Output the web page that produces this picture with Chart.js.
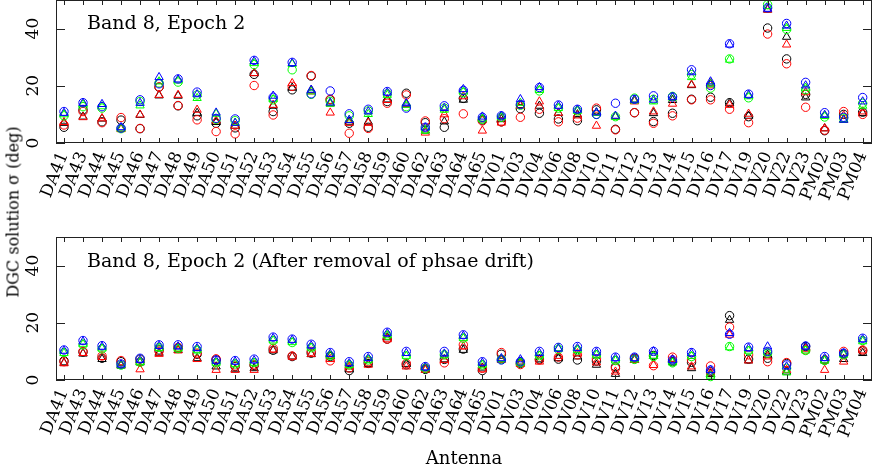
<!DOCTYPE html>
<html>
<head>
<meta charset="utf-8">
<script src="https://cdn.jsdelivr.net/npm/chart.js@4.4.1/dist/chart.umd.min.js"></script>
<style>
  html, body { margin: 0; padding: 0; background: #fff; overflow: hidden; }
  #wrap { position: relative; width: 872px; height: 466px; font-family: 'DejaVu Serif', serif; color: #000; }
  .panel { position: absolute; left: 0; width: 872px; }
  #top { top: 0; height: 222px; }
  #bot { top: 222px; height: 244px; }
  .title { position: absolute; left: 87px; font-size: 19px; line-height: 1; white-space: nowrap; }
  #ylab { position: absolute; left: 13px; top: 212px; transform: translate(-50%, -50%) rotate(-90deg); font-size: 16px; white-space: nowrap; }
</style>
</head>
<body>
<div id="wrap">
  <div class="panel" id="top"><canvas id="chartTop"></canvas></div>
  <div class="panel" id="bot"><canvas id="chartBot"></canvas></div>
  <div class="title" style="top:13px">Band 8, Epoch 2</div>
  <div class="title" style="top:251px">Band 8, Epoch 2 (After removal of phsae drift)</div>
  <div id="ylab">DGC solution σ (deg)</div>
</div>
<script>
const antennas = ['DA41','DA43','DA44','DA45','DA46','DA47','DA48','DA49','DA50','DA51','DA52','DA53','DA54',
  'DA55','DA56','DA57','DA58','DA59','DA60','DA62','DA63','DA64','DA65','DV01','DV03','DV04','DV06','DV08',
  'DV10','DV11','DV12','DV13','DV14','DV15','DV16','DV17','DV19','DV20','DV22','DV23','PM02','PM03','PM04'];
const yTicks = [0, 20, 40];

// panneau du haut : Band 8, Epoch 2
const topBlackCirc = [5.5,11.6,7.4,8.0,5.0,19.5,13.0,9.5,6.9,5.3,24.0,11.0,18.6,23.4,15.1,6.9,5.5,14.5,17.4,7.1,5.5,15.6,8.0,7.4,12.0,10.4,8.4,7.8,11.6,4.8,10.6,7.5,10.4,15.3,16.0,14.1,9.2,40.2,29.4,17.0,4.3,10.0,10.8];
const topRedCirc   = [6.3,11.0,7.1,8.9,5.1,19.6,13.1,8.1,4.0,3.2,20.1,9.8,19.8,23.6,15.3,3.4,5.1,13.9,16.8,7.7,8.5,10.2,7.7,7.4,9.0,11.8,7.4,8.7,12.2,4.6,10.6,6.9,9.5,15.1,15.1,11.8,7.1,38.1,27.7,12.5,4.5,11.0,10.0];
const topGreenCirc = [9.5,12.7,12.2,5.0,14.5,21.0,21.3,16.8,8.3,7.8,27.4,15.1,25.6,17.0,14.5,9.5,11.2,17.2,12.7,4.8,12.2,17.6,8.3,9.0,13.2,18.2,12.2,11.2,10.0,9.2,15.7,15.3,16.3,23.9,19.2,29.4,15.8,48.4,39.7,18.6,9.1,8.7,13.9];
const topBlueCirc  = [11.0,14.1,12.7,5.2,15.1,20.7,22.4,17.8,8.6,8.4,28.9,16.0,28.2,17.2,18.2,10.2,11.8,18.0,12.2,5.5,13.0,18.4,9.0,9.5,13.5,19.4,13.3,11.8,10.0,13.9,15.3,16.5,16.1,25.6,20.1,34.7,17.1,47.3,41.8,21.2,10.6,9.0,15.9];
const topBlackTri  = [7.0,9.2,8.5,5.0,9.8,16.6,16.5,10.5,7.3,6.0,24.4,13.0,19.3,18.4,13.8,7.4,7.4,15.2,13.7,4.3,7.5,15.1,8.2,8.3,13.2,13.0,10.5,10.0,10.6,9.3,15.1,10.4,15.0,20.2,20.8,13.9,9.5,46.6,37.1,15.9,5.1,8.1,10.4];
const topRedTri    = [7.3,9.0,8.6,4.8,9.9,16.8,16.8,11.6,7.8,6.0,24.4,13.3,20.9,18.0,10.6,7.0,7.0,15.0,13.4,3.6,10.0,16.3,4.3,7.1,13.0,14.5,10.5,9.6,6.0,9.3,14.5,11.0,13.7,20.4,20.1,13.3,10.2,46.6,34.4,17.7,5.1,9.6,11.0];
const topGreenTri  = [10.0,13.5,12.8,5.0,13.1,21.5,21.8,15.7,10.2,7.0,27.9,15.3,27.6,18.0,13.7,8.1,10.1,16.8,13.3,4.3,11.6,18.0,8.5,9.0,14.0,18.5,12.2,11.2,10.5,9.1,14.8,14.5,15.8,23.0,20.5,29.1,16.3,47.8,40.2,19.3,9.4,8.3,13.0];
const topBlueTri   = [10.5,14.0,13.6,5.5,14.0,23.0,22.2,17.0,10.6,7.0,28.6,16.5,27.9,18.6,14.1,8.0,11.0,17.6,13.9,5.4,12.2,18.8,9.2,9.5,15.3,19.5,13.0,11.6,10.7,9.5,15.1,15.1,16.1,24.7,21.5,34.4,16.8,46.9,41.0,20.1,9.8,8.1,14.5];

// panneau du bas : après suppression de la dérive de phase
const botBlackCirc = [6.7,9.8,7.6,6.4,7.3,10.5,11.2,9.0,7.0,4.7,5.1,10.4,8.2,9.4,8.2,3.3,5.8,14.3,5.3,3.7,7.2,10.8,3.3,9.0,5.8,7.3,7.3,7.0,6.6,4.6,7.6,8.6,6.4,6.2,2.9,22.5,7.3,7.6,5.8,11.7,7.0,9.1,10.2];
const botRedCirc   = [6.4,10.0,8.4,6.8,6.3,10.0,11.4,9.4,7.4,4.9,5.3,11.1,8.4,10.0,6.7,4.2,6.4,14.3,5.8,4.1,6.0,12.3,4.1,9.6,5.4,7.0,8.0,8.8,7.4,4.1,7.4,5.0,8.0,7.0,4.9,18.5,8.8,6.4,6.1,10.5,7.0,10.0,10.5];
const botGreenCirc = [9.6,12.3,10.9,5.2,6.2,11.4,11.0,10.5,6.0,5.6,6.1,13.8,13.1,11.3,8.5,5.3,7.0,15.6,8.4,4.1,8.8,14.6,5.3,7.2,6.0,8.5,10.7,10.5,8.8,6.8,7.2,8.2,6.0,8.2,1.2,11.7,10.2,9.4,4.1,10.3,6.8,8.8,13.8];
const botBlueCirc  = [10.5,13.8,12.0,5.6,7.6,12.3,12.3,11.7,7.0,6.8,7.3,15.0,14.3,12.5,9.6,6.4,8.2,16.7,10.0,4.7,10.0,15.8,6.4,7.0,6.4,10.0,11.4,11.7,10.0,8.0,8.0,10.0,7.0,9.6,3.5,16.0,11.5,10.0,5.3,11.9,8.2,9.4,14.6];
const botBlackTri  = [6.0,9.2,7.3,5.0,6.1,9.5,10.5,7.6,4.7,3.7,4.1,10.3,8.2,9.0,8.3,3.7,5.6,14.9,5.6,3.6,7.2,10.5,4.3,7.2,6.4,7.2,7.6,8.2,5.3,2.1,7.0,8.4,6.4,4.1,2.1,21.0,6.8,8.8,2.9,11.4,6.8,7.3,9.4];
const botRedTri    = [5.8,9.4,8.0,5.2,3.7,9.1,10.3,7.3,3.5,3.5,3.5,10.6,8.1,9.1,7.3,4.7,5.3,14.2,4.7,3.5,7.0,11.7,3.7,7.0,5.6,6.4,8.4,9.3,6.1,2.9,7.0,5.2,7.3,4.7,2.6,15.8,6.8,8.2,3.5,10.9,3.5,6.4,10.3];
const botGreenTri  = [9.4,12.6,11.0,5.1,6.2,11.2,11.0,10.5,6.0,5.6,6.0,13.8,13.2,11.3,8.5,5.2,7.0,15.6,8.4,4.2,8.8,14.6,5.3,7.2,6.0,8.5,11.1,10.5,8.8,6.8,7.2,8.4,6.1,8.4,1.5,11.4,10.2,9.6,2.6,10.3,6.8,8.8,13.5];
const botBlueTri   = [10.2,13.4,11.6,5.4,7.0,11.9,11.7,11.1,6.7,6.4,6.8,14.6,14.0,12.0,9.1,5.8,7.6,16.3,9.4,4.4,9.2,15.4,6.0,7.6,7.2,9.4,10.9,11.1,9.6,7.6,7.6,10.0,7.0,9.3,3.5,16.4,11.1,11.7,4.7,11.7,7.6,9.3,14.2];

const FONT = 'DejaVu Serif';

function series(values, color, style) {
    return {
        data: values.map((v, i) => ({ x: i, y: v })),
        pointStyle: style,
        pointRadius: style === 'circle' ? 4.2 : 4.8,
        pointBorderWidth: 1,
        borderColor: color,
        backgroundColor: 'rgba(0,0,0,0)',
        showLine: false,
        clip: false
    };
}

// cadre + graduations vers l'intérieur (style PGPLOT)
const frame = {
    id: 'frame',
    afterDatasetsDraw(chart) {
        const { ctx, chartArea: a, scales: { x, y } } = chart;
        ctx.save();
        ctx.strokeStyle = '#222';
        ctx.lineWidth = 1;
        ctx.strokeRect(a.left + 0.5, a.top + 0.5, a.right - a.left - 1, a.bottom - a.top - 1);
        ctx.beginPath();
        x.ticks.forEach(t => {
            const px = Math.round(x.getPixelForValue(t.value)) + 0.5;
            ctx.moveTo(px, a.bottom); ctx.lineTo(px, a.bottom - 5);
            ctx.moveTo(px, a.top); ctx.lineTo(px, a.top + 5);
        });
        y.ticks.forEach(t => {
            const py = Math.round(y.getPixelForValue(t.value)) + 0.5;
            ctx.moveTo(a.left, py); ctx.lineTo(a.left + 9, py);
            ctx.moveTo(a.right, py); ctx.lineTo(a.right - 9, py);
        });
        ctx.stroke();
        ctx.restore();
    }
};

function makeChart(id, sets, padTop, xHeight, showTitle) {
    new Chart(document.getElementById(id), {
        type: 'scatter',
        data: {
            datasets: [
                series(sets[7], '#0000ff', 'triangle'),
                series(sets[3], '#0000ff', 'circle'),
                series(sets[6], '#00ff00', 'triangle'),
                series(sets[2], '#00ff00', 'circle'),
                series(sets[5], '#ff0000', 'triangle'),
                series(sets[1], '#ff0000', 'circle'),
                series(sets[4], '#000000', 'triangle'),
                series(sets[0], '#000000', 'circle')
            ]
        },
        options: {
            responsive: true,
            maintainAspectRatio: false,
            animation: false,
            layout: { autoPadding: false, padding: { top: padTop, right: 0, left: 0, bottom: 0 } },
            plugins: { legend: { display: false }, tooltip: { enabled: false } },
            scales: {
                x: {
                    type: 'linear',
                    min: -0.42,
                    max: 42.49,
                    afterBuildTicks: s => { s.ticks = antennas.map((_, i) => ({ value: i })); },
                    afterFit: s => { s.height = xHeight; s.paddingLeft = 0; s.paddingRight = 0; },
                    grid: { display: false, drawTicks: false },
                    border: { display: false },
                    ticks: {
                        autoSkip: false,
                        minRotation: 68,
                        maxRotation: 68,
                        padding: 6,
                        color: '#000',
                        font: { family: FONT, size: 17 },
                        callback: v => antennas[v]
                    },
                    title: {
                        display: showTitle,
                        text: 'Antenna',
                        color: '#000',
                        font: { family: FONT, size: 18 },
                        padding: { top: 0, bottom: -4 }
                    }
                },
                y: {
                    min: 0,
                    max: 50,
                    afterBuildTicks: s => { s.ticks = yTicks.map(v => ({ value: v })); },
                    afterFit: s => { s.width = 56; s.paddingTop = 0; s.paddingBottom = 0; },
                    grid: { display: false, drawTicks: false },
                    border: { display: false },
                    ticks: {
                        minRotation: 90,
                        maxRotation: 90,
                        crossAlign: 'center',
                        padding: 12,
                        color: '#000',
                        font: { family: FONT, size: 17 }
                    }
                }
            }
        },
        plugins: [frame]
    });
}

makeChart('chartTop', [topBlackCirc, topRedCirc, topGreenCirc, topBlueCirc, topBlackTri, topRedTri, topGreenTri, topBlueTri], 0, 79, false);
makeChart('chartBot', [botBlackCirc, botRedCirc, botGreenCirc, botBlueCirc, botBlackTri, botRedTri, botGreenTri, botBlueTri], 15, 86, true);
</script>
</body>
</html>
